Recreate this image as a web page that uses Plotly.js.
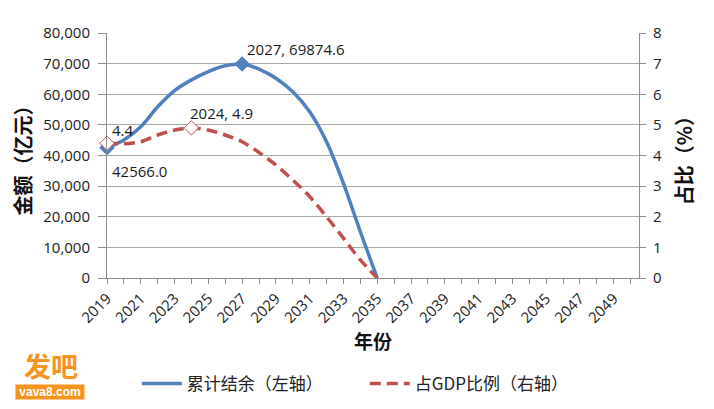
<!DOCTYPE html>
<html>
<head>
<meta charset="utf-8">
<script src="https://cdn.plot.ly/plotly-3.0.1.min.js"></script>
<style>
  html, body { margin: 0; padding: 0; background: #fff; }
  #chart { width: 714px; height: 409px; }
</style>
</head>
<body>
<div id="chart"></div>
<script>
// years and the two projected series
const years = [2019, 2020, 2021, 2022, 2023, 2024, 2025, 2026, 2027,
  2028, 2029, 2030, 2031, 2032, 2033, 2034, 2035];
const balance = [42566.0, 45100, 49400, 55900, 61200, 64700, 67400, 69300, 69874.6,
  68200, 65200, 60800, 54300, 44500, 30900, 15100, 0];
const gdpShare = [4.4, 4.38, 4.45, 4.67, 4.83, 4.9, 4.83, 4.67, 4.45,
  4.1, 3.69, 3.2, 2.66, 2.0, 1.3, 0.59, 0];

const blue = "#4f81bd";
const red = "#c0504d";
const grid = "#a8a8a8";
const axisLine = "#8c8c8c";
const latin = "'Open Sans', 'Noto Sans CJK SC', sans-serif";
const cjk = "'Noto Sans CJK SC', sans-serif";

const traces = [
  {
    x: years,
    y: balance,
    name: "累计结余（左轴）",
    type: "scatter",
    mode: "lines",
    cliponaxis: false,
    line: { color: blue, width: 3.5, shape: "spline", smoothing: 0.8 },
    hoverinfo: "skip",
  },
  {
    x: years,
    y: gdpShare,
    name: "占GDP比例（右轴）",
    type: "scatter",
    mode: "lines",
    yaxis: "y2",
    cliponaxis: false,
    line: { color: red, width: 3.5, shape: "spline", smoothing: 0.8, dash: "11px,6px" },
    hoverinfo: "skip",
  },
  // highlighted points
  {
    x: [years[0], years[8]],
    y: [balance[0], balance[8]],
    type: "scatter",
    mode: "markers",
    showlegend: false,
    cliponaxis: false,
    marker: { symbol: "diamond", size: 12, color: blue },
    hoverinfo: "skip",
  },
  {
    x: [years[0], years[5]],
    y: [gdpShare[0], gdpShare[5]],
    type: "scatter",
    mode: "markers",
    yaxis: "y2",
    showlegend: false,
    cliponaxis: false,
    marker: { symbol: "diamond", size: 11, color: "#fff", line: { color: red, width: 1 } },
    hoverinfo: "skip",
  },
];

const labelFont = { family: latin, size: 15, color: "#1a1a1a" };
const tickFont = { family: latin, size: 15, color: "#222" };
const titleFont = { family: cjk, size: 20, color: "#111", weight: "bold" };

const layout = {
  width: 714,
  height: 409,
  margin: { l: 107, r: 75, t: 33, b: 131 },
  paper_bgcolor: "#fff",
  plot_bgcolor: "#fff",
  showlegend: true,
  legend: {
    orientation: "h",
    x: 0.056,
    xanchor: "left",
    yref: "container",
    y: 43 / 409,
    yanchor: "top",
    font: { family: cjk, size: 17, color: "#222" },
    entrywidth: 173,
    entrywidthmode: "pixels",
    itemwidth: 40,
    tracegroupgap: 0,
  },
  xaxis: {
    range: [2019, 2050.5],
    tick0: 2019,
    dtick: 2,
    tickangle: -45,
    ticks: "outside",
    ticklen: 5,
    tickcolor: axisLine,
    minor: { dtick: 1, ticks: "outside", ticklen: 5, tickcolor: axisLine, showgrid: false },
    showline: true,
    linecolor: axisLine,
    linewidth: 1,
    showgrid: false,
    zeroline: false,
    automargin: false,
    tickfont: tickFont,
    title: { text: "年份", font: { family: cjk, size: 19, color: "#111", weight: "bold" }, standoff: 8 },
  },
  yaxis: {
    range: [0, 80000],
    dtick: 10000,
    tickformat: ",",
    ticks: "outside",
    ticklen: 8,
    tickcolor: axisLine,
    ticklabelstandoff: 5,
    showline: true,
    linecolor: axisLine,
    gridcolor: grid,
    gridwidth: 1,
    zeroline: false,
    automargin: false,
    tickfont: tickFont,
    title: { text: "金额（亿元）", font: titleFont, standoff: 6 },
  },
  yaxis2: {
    range: [0, 8],
    dtick: 1,
    overlaying: "y",
    side: "right",
    ticks: "outside",
    ticklen: 6,
    tickcolor: axisLine,
    ticklabelstandoff: 4,
    showline: true,
    linecolor: axisLine,
    showgrid: false,
    zeroline: false,
    automargin: false,
    tickfont: tickFont,
    title: { text: "占比（%）", font: titleFont, standoff: 16 },
  },
  annotations: [
    { x: 2027.15, y: 74800, xref: "x", yref: "y", text: years[8] + ", " + balance[8].toFixed(1),
      showarrow: false, xanchor: "left", yanchor: "middle", font: labelFont },
    { x: 2023.8, y: 5.39, xref: "x", yref: "y2", text: years[5] + ", " + gdpShare[5].toFixed(1),
      showarrow: false, xanchor: "left", yanchor: "middle", font: labelFont },
    { x: 2019.15, y: 4.83, xref: "x", yref: "y2", text: gdpShare[0].toFixed(1),
      showarrow: false, xanchor: "left", yanchor: "middle", font: labelFont },
    { x: 2019.15, y: 34900, xref: "x", yref: "y", text: balance[0].toFixed(1),
      showarrow: false, xanchor: "left", yanchor: "middle", font: labelFont },
  ],
};

// watermark, placed in pixels -> paper coords
const pw = 714 - 107 - 75, ph = 409 - 33 - 131;
function px(x) { return (x - 107) / pw; }
function py(y) { return (409 - 131 - y) / ph; }
layout.annotations.push({
  x: px(51), y: py(366), xref: "paper", yref: "paper", text: "发吧",
  showarrow: false, xanchor: "center", yanchor: "middle",
  font: { family: cjk, size: 27, color: "#f7941d", weight: "bold" },
});
layout.annotations.push({
  x: px(50), y: py(392), xref: "paper", yref: "paper", text: " vava8.com ",
  showarrow: false, xanchor: "center", yanchor: "middle", bgcolor: "#f7941d", borderpad: 0,
  font: { family: "'Liberation Sans', sans-serif", size: 12, color: "#fff", weight: "bold" },
});

Plotly.newPlot("chart", traces, layout, { staticPlot: true });
</script>
</body>
</html>
